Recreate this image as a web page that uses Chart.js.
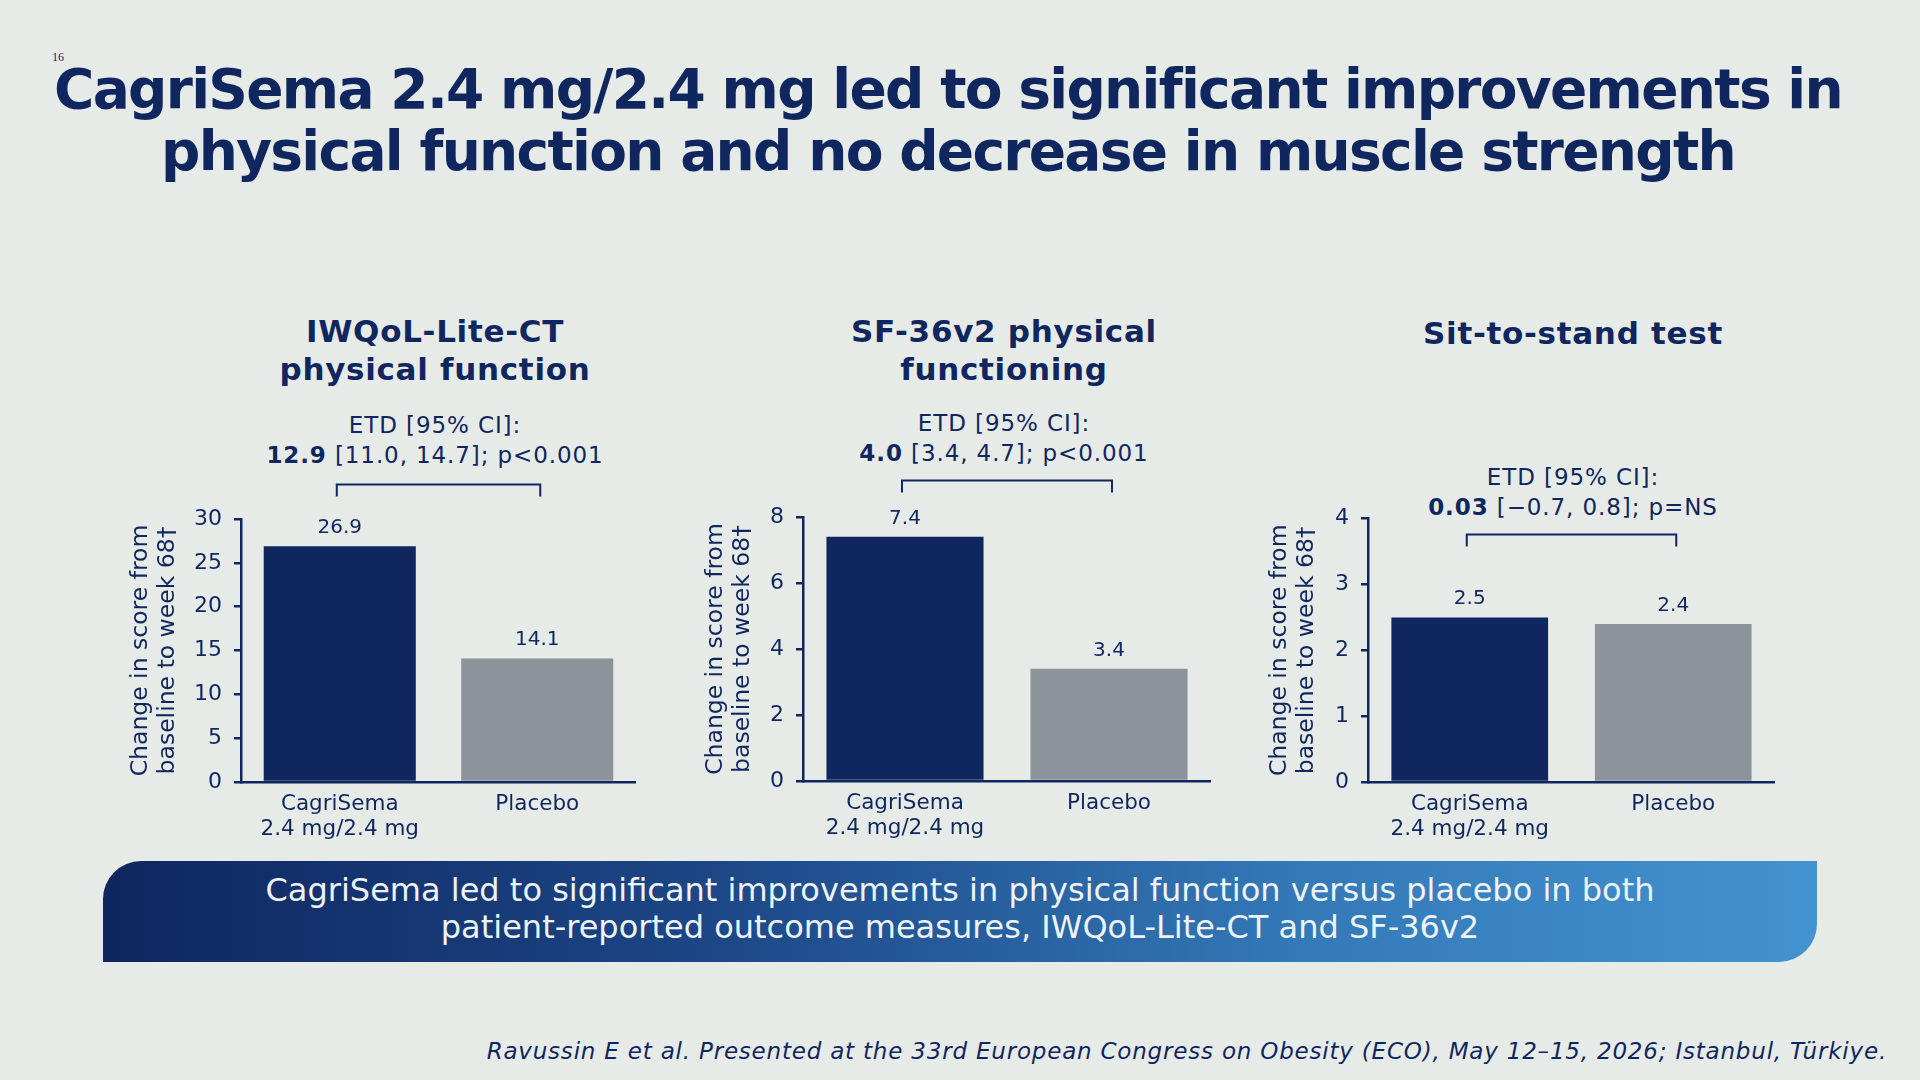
<!DOCTYPE html>
<html>
<head>
<meta charset="utf-8">
<script src="https://cdn.jsdelivr.net/npm/chart.js@4.4.1/dist/chart.umd.min.js"></script>
<style>
  html, body { margin: 0; padding: 0; }
  body {
    width: 1920px; height: 1080px; overflow: hidden; position: relative;
    background: #e7ebe8; color: #10265e; font-family: "DejaVu Sans", Verdana, sans-serif;
  }
  .abs { position: absolute; }
  .page-no { left: 52px; top: 50px; font: 12px "Liberation Serif", serif; }
  .title {
    left: 0; width: 1896px; top: 58px; text-align: center;
    font-weight: bold; font-size: 55px; line-height: 62px; letter-spacing: -1.7px;
  }
  .chart-title {
    width: 560px; text-align: center; font-weight: bold; font-size: 31px; line-height: 38px;
    letter-spacing: 0.7px;
  }
  .etd { width: 560px; text-align: center; font-size: 23px; line-height: 30px; letter-spacing: 0.9px; }
  .box { position: absolute; }
  .banner {
    left: 103px; top: 861px; width: 1714px; height: 101px;
    border-radius: 38px 0 38px 0;
    background: linear-gradient(to right, #0f265e 0%, #1c4686 35%, #3479b8 70%, #4393d0 100%);
    color: #eef3f8; text-align: center; font-size: 32px; line-height: 37px;
    display: flex; align-items: center; justify-content: center;
    box-sizing: border-box; padding-bottom: 6px;
  }
  .footer { right: 33px; top: 1038px; font-size: 23px; font-style: italic; letter-spacing: 0.8px; }
</style>
</head>
<body>
<div class="abs page-no">16</div>
<div class="abs title">CagriSema 2.4 mg/2.4 mg led to significant improvements in<br>physical function and no decrease in muscle strength</div>

<div class="abs chart-title" style="left:155px; top:312px;">IWQoL-Lite-CT<br>physical function</div>
<div class="abs chart-title" style="left:724px; top:312px;">SF-36v2 physical<br>functioning</div>
<div class="abs chart-title" style="left:1293px; top:314px;">Sit-to-stand test</div>

<div class="abs etd" style="left:155px; top:410px;">ETD [95% CI]:<br><b>12.9</b> [11.0, 14.7]; p&lt;0.001</div>
<div class="abs etd" style="left:724px; top:408px;">ETD [95% CI]:<br><b>4.0</b> [3.4, 4.7]; p&lt;0.001</div>
<div class="abs etd" style="left:1293px; top:462px;">ETD [95% CI]:<br><b>0.03</b> [−0.7, 0.8]; p=NS</div>

<div class="box" style="left:100px; top:470px; width:536px; height:372px;"><canvas id="c1"></canvas></div>
<div class="box" style="left:675px; top:470px; width:536px; height:371px;"><canvas id="c2"></canvas></div>
<div class="box" style="left:1239px; top:470px; width:536px; height:372px;"><canvas id="c3"></canvas></div>

<div class="abs banner">CagriSema led to significant improvements in physical function versus placebo in both<br>patient-reported outcome measures, IWQoL-Lite-CT and SF-36v2</div>
<div class="abs footer">Ravussin E et al. Presented at the 33rd European Congress on Obesity (ECO), May 12–15, 2026; Istanbul, Türkiye.</div>

<script>
const categories = [['CagriSema', '2.4 mg/2.4 mg'], 'Placebo'];
const iwqolValues = [26.9, 14.1];
const sf36Values = [7.4, 3.4];
const sitStandValues = [2.5, 2.4];
const iwqolTicks = [0, 5, 10, 15, 20, 25, 30];
const sf36Ticks = [0, 2, 4, 6, 8];
const sitStandTicks = [0, 1, 2, 3, 4];
const yTitle = ['Change in score from', 'baseline to week 68\u2020'];

const NAVY = '#10265e';
const GREY = '#8c939a';
const FONT = '"DejaVu Sans", Verdana, sans-serif';

// value labels over the bars + the ETD bracket joining both bars
const barAnnotations = {
  id: 'barAnnotations',
  afterDatasetsDraw(chart, args, opts) {
    const ctx = chart.ctx;
    const meta = chart.getDatasetMeta(0);
    const values = chart.data.datasets[0].data;
    ctx.save();
    ctx.fillStyle = NAVY;
    ctx.font = '20px ' + FONT;
    ctx.textAlign = 'center';
    ctx.textBaseline = 'alphabetic';
    meta.data.forEach((bar, i) => {
      ctx.fillText(values[i].toFixed(1), bar.x, bar.y - 13);
    });
    const y = Math.round(chart.scales.y.getPixelForValue(opts.bracketAt)) + 0.5;
    const x1 = meta.data[0].x - 3, x2 = meta.data[1].x + 3;
    ctx.strokeStyle = NAVY;
    ctx.lineWidth = 2;
    ctx.beginPath();
    ctx.moveTo(x1, y + 12);
    ctx.lineTo(x1, y);
    ctx.lineTo(x2, y);
    ctx.lineTo(x2, y + 12);
    ctx.stroke();
    ctx.restore();
  }
};

function makeChart(id, values, ticks, bracketAt, yWidth, padTop) {
  return new Chart(document.getElementById(id), {
    type: 'bar',
    data: {
      labels: categories,
      datasets: [{
        data: values,
        backgroundColor: [NAVY, GREY],
        borderWidth: 0,
        barPercentage: 0.77,
        categoryPercentage: 1
      }]
    },
    options: {
      responsive: true,
      maintainAspectRatio: false,
      animation: false,
      layout: { padding: { top: padTop, left: 0, right: 0, bottom: 0 } },
      plugins: {
        legend: { display: false },
        tooltip: { enabled: false },
        barAnnotations: { bracketAt: bracketAt }
      },
      scales: {
        x: {
          grid: { display: false, drawTicks: false },
          border: { display: true, color: NAVY, width: 2.5 },
          ticks: {
            color: NAVY, font: { family: FONT, size: 21.5, lineHeight: 1.15 }, padding: 10,
            autoSkip: false, maxRotation: 0
          },
          afterFit(scale) { scale.height = 60; }
        },
        y: {
          min: ticks[0],
          max: ticks[ticks.length - 1],
          grid: { drawOnChartArea: false, drawTicks: true, tickLength: 7, color: NAVY, lineWidth: 2.5 },
          border: { display: true, color: NAVY, width: 2.5 },
          ticks: {
            stepSize: ticks[1] - ticks[0], color: NAVY,
            font: { family: FONT, size: 22 }, padding: 12
          },
          title: {
            display: true, text: yTitle, color: NAVY,
            font: { family: FONT, size: 23.5, lineHeight: 1.14 },
            padding: { top: 27.6, bottom: 0 }
          },
          afterFit(scale) { scale.width = yWidth; }
        }
      }
    },
    plugins: [barAnnotations]
  });
}

makeChart('c1', iwqolValues, iwqolTicks, 34.0, 141, 49);
makeChart('c2', sf36Values, sf36Ticks, 9.12, 128, 47);
makeChart('c3', sitStandValues, sitStandTicks, 3.77, 129, 48.6);
</script>
</body>
</html>
